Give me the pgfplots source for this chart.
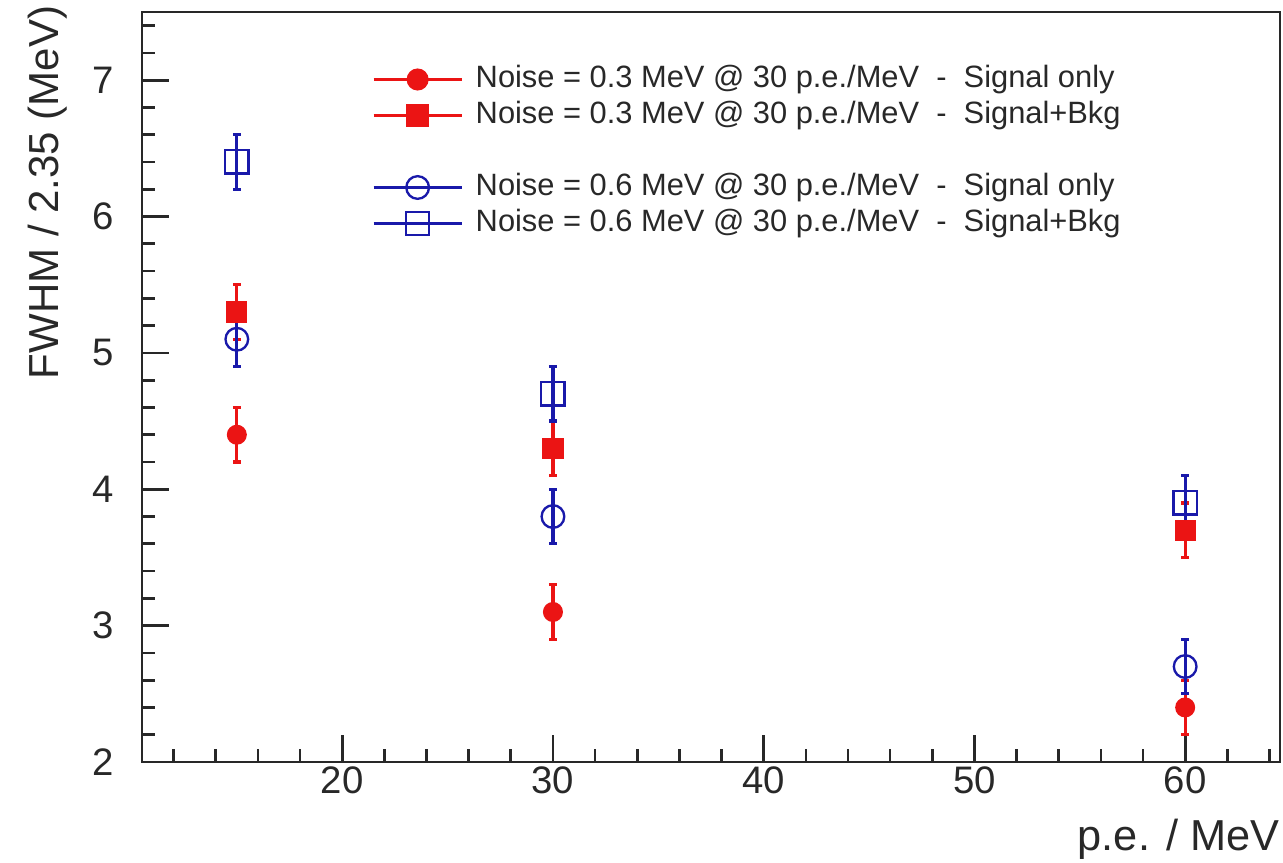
\documentclass[border=0pt]{standalone}
\usepackage{fontspec}
\setmainfont{Liberation Sans}
\usepackage{pgfplots}
\pgfplotsset{compat=1.18}
\definecolor{rootred}{RGB}{235,20,20}
\definecolor{rootblue}{RGB}{25,25,170}
\definecolor{axisgray}{RGB}{40,40,40}
\pgfplotsset{
  rootlegend/.style={legend image code/.code={%
    \draw[sharp plot, line width=1pt, mark repeat=2, mark phase=2]
      plot coordinates {(0cm,0cm) (0.465cm,0cm) (0.93cm,0cm)};
    \path (0.93cm+4pt,0cm);}},
  errstyle/.style={error bars/.cd, y dir=both, y explicit,
    error bar style={line width=1pt},
    error mark options={rotate=90, mark size=1.2pt, line width=1pt}},
}
\begin{document}
\begin{tikzpicture}
\begin{axis}[
  scale only axis, width=341.4pt, height=225pt,
  xmin=10.5, xmax=64.5, ymin=2, ymax=7.5,
  xtick={20,30,40,50,60}, ytick={2,3,4,5,6,7},
  minor xtick={12,14,16,18,22,24,26,28,32,34,36,38,42,44,46,48,52,54,56,58,62,64},
  minor ytick={2.2,2.4,2.6,2.8,3.2,3.4,3.6,3.8,4.2,4.4,4.6,4.8,5.2,5.4,5.6,5.8,6.2,6.4,6.6,6.8,7.2,7.4},
  tick pos=left, tick align=inside,
  major tick length=8pt, minor tick length=4pt,
  axis line style={line width=0.8pt, draw=axisgray},
  every tick/.style={line width=0.8pt, axisgray},
  ticklabel style={font=\fontsize{11.5}{13}\selectfont, text=axisgray},
  yticklabel style={xshift=-5pt},
  xticklabel style={yshift=2pt},
  /pgf/number format/assume math mode=true,
  label style={font=\fontsize{12.6}{15}\selectfont, text=axisgray},
  xlabel={p.e. / MeV}, ylabel={FWHM / 2.35 (MeV)},
  xlabel style={at={(rel axis cs:1,0)}, anchor=north east, inner sep=0pt, yshift=-17pt, font=\fontsize{13}{15}\selectfont},
  ylabel style={at={(axis description cs:-0.0738,1.0093)}, anchor=base east, inner sep=0pt},
  legend cell align=left,
  legend style={at={(0.202,0.930)}, anchor=north west, draw=none, fill=none,
    inner sep=0pt, outer sep=0pt, row sep=1.8pt,
    font=\fontsize{9.25}{10.8}\selectfont, text=axisgray,
    nodes={inner sep=0pt, text height=7pt, text depth=2pt}},
]
\addplot[rootred, only marks, mark=*, mark size=2.8pt, rootlegend, errstyle]
  coordinates {(15,4.4) +- (0,0.2) (30,3.1) +- (0,0.2) (60,2.4) +- (0,0.2)};
\addlegendentry{Noise = 0.3 MeV @ 30 p.e./MeV~~-~~Signal only}
\addplot[rootred, only marks, mark=square*, mark size=3pt, rootlegend, errstyle]
  coordinates {(15,5.3) +- (0,0.2) (30,4.3) +- (0,0.2) (60,3.7) +- (0,0.2)};
\addlegendentry{Noise = 0.3 MeV @ 30 p.e./MeV~~-~~Signal+Bkg}
\addlegendimage{empty legend}
\addlegendentry{}
\addplot[rootblue, only marks, mark=o, mark size=3.4pt, mark options={line width=0.7pt}, rootlegend, errstyle]
  coordinates {(15,5.1) +- (0,0.2) (30,3.8) +- (0,0.2) (60,2.7) +- (0,0.2)};
\addlegendentry{Noise = 0.6 MeV @ 30 p.e./MeV~~-~~Signal only}
\addplot[rootblue, only marks, mark=square, mark size=3.5pt, mark options={line width=0.7pt}, rootlegend, errstyle]
  coordinates {(15,6.4) +- (0,0.2) (30,4.7) +- (0,0.2) (60,3.9) +- (0,0.2)};
\addlegendentry{Noise = 0.6 MeV @ 30 p.e./MeV~~-~~Signal+Bkg}
\end{axis}
\path (current axis.south west) ++(-42.6pt,-30.3pt);
\path (current axis.north east) ++(0.9pt,3.6pt);
\end{tikzpicture}
\end{document}
